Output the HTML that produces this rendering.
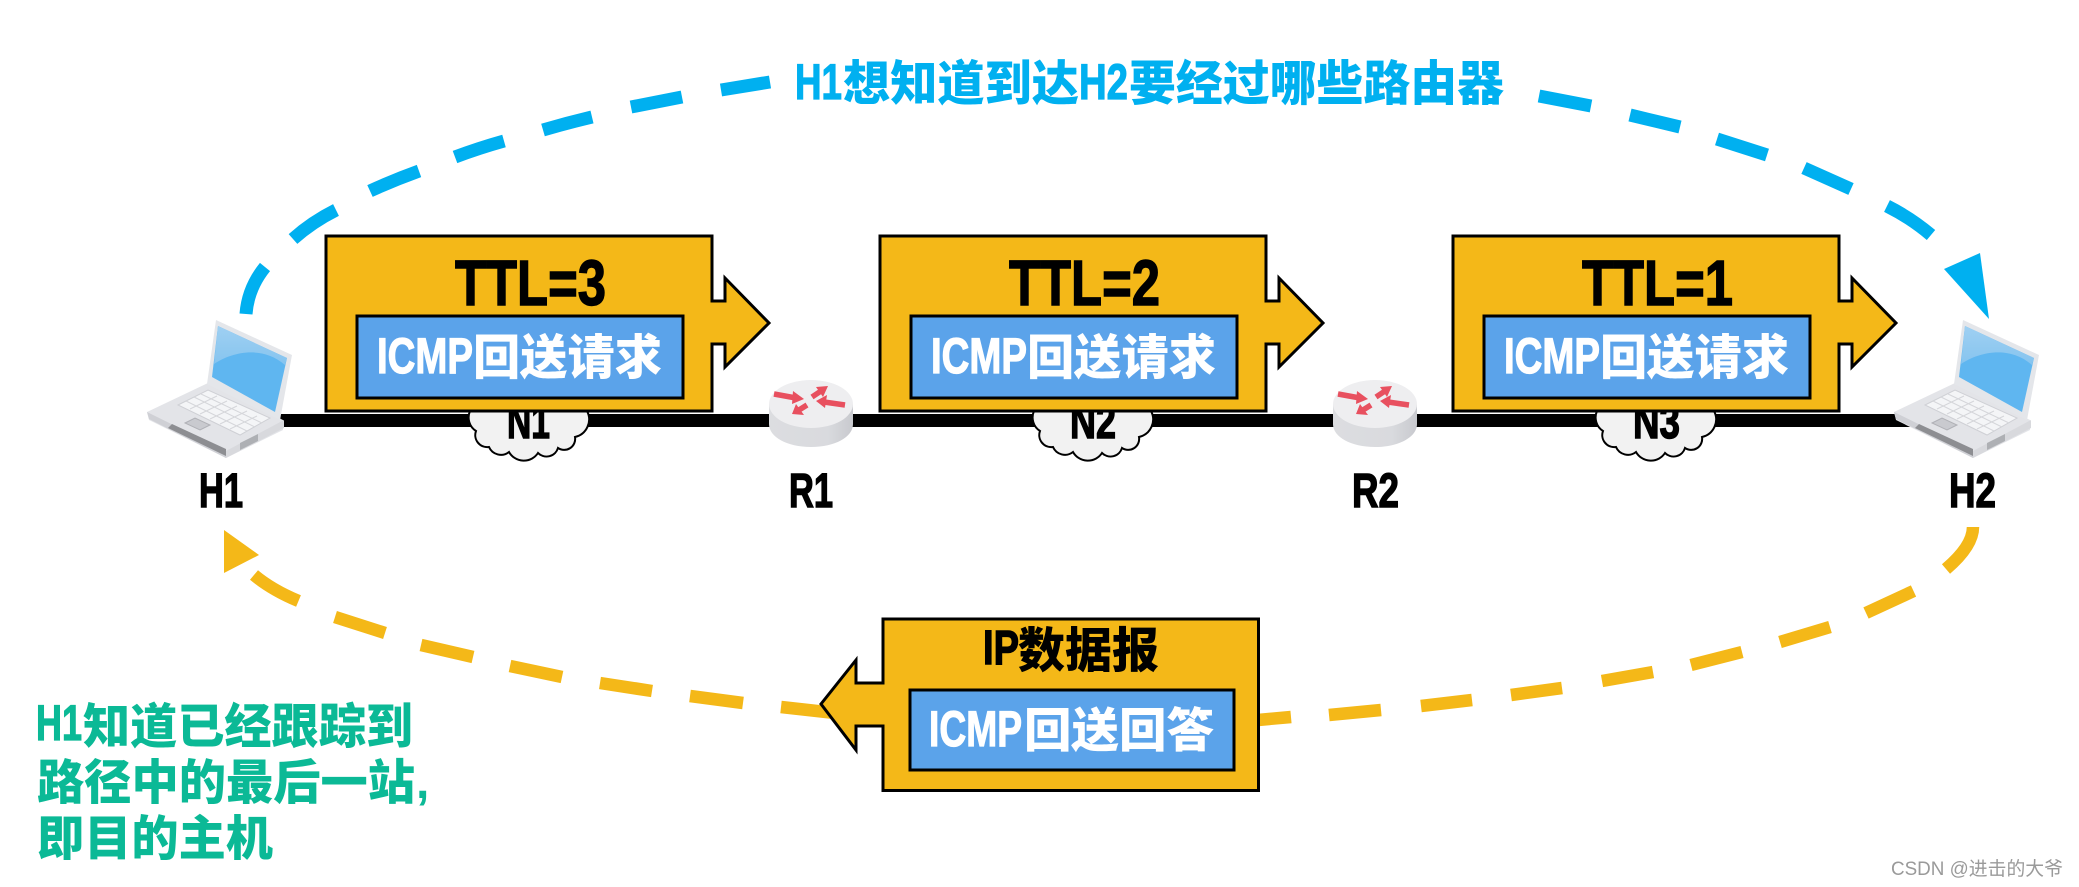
<!DOCTYPE html>
<html lang="zh">
<head>
<meta charset="utf-8">
<title>ICMP traceroute</title>
<style>
html,body{margin:0;padding:0;background:#fff;width:2079px;height:887px;overflow:hidden}
svg{display:block}
text{font-family:"Liberation Sans","Noto Sans CJK SC",sans-serif;font-weight:700}
.cjk{font-family:"Noto Sans CJK SC","Liberation Sans",sans-serif;font-weight:900}
.blue path{fill:none;stroke:#00b0f0;stroke-width:13}
.org path{fill:none;stroke:#f4b818;stroke-width:12.5}
.box{fill:#f4b818;stroke:#000;stroke-width:3}
.in{fill:#5ba3ea;stroke:#000;stroke-width:3}
.w{fill:#fff}
.cl{fill:#f2f2f2;stroke:#000;stroke-width:2}
.c{fill:#00b0f0}
.g{fill:#0bb996}
.k{stroke:#000;stroke-width:1.4}
.sw{stroke:#fff;stroke-width:1.2}
.sc{stroke:#00b0f0;stroke-width:1.2}
.sg{stroke:#0bb996;stroke-width:1.2}
</style>
</head>
<body>
<svg width="2079" height="887" viewBox="0 0 2079 887" xmlns="http://www.w3.org/2000/svg">
<defs>
<linearGradient id="sc" x1="0" y1="0" x2="0" y2="1"><stop offset="0" stop-color="#9fd0f2"/><stop offset="1" stop-color="#86c4ef"/></linearGradient>
<linearGradient id="rb" x1="0" y1="0" x2="1" y2="0"><stop offset="0" stop-color="#dcdde0"/><stop offset=".7" stop-color="#d9dade"/><stop offset="1" stop-color="#c8c9ce"/></linearGradient>
<g id="laptop">
  <polygon points="147,412 208,383 283,420 283,430 226,458 149,420" fill="#e3e4e8"/>
  <polygon points="149,419 226,458 226,451 147,412" fill="#cfd0d5"/>
  <polygon points="226,458 284,428 284,420 226,451" fill="#d8d9dd"/>
  <polygon points="168,428 226,456 226,449 172,424" fill="#8d8e92"/>
  <polygon points="240,450 258,441 258,434 240,443" fill="#aeb0b4"/>
  <polygon points="178,405 208,390 270,418 240,435" fill="#f4f5f7" stroke="#cfd0d5" stroke-width="1"/>
  <path d="M186,401 247,431M194,397 255,427M201,394 262,423M190,409 217,396M200,414 227,401M210,419 237,406M220,424 247,411M230,429 257,416" stroke="#d5d6da" stroke-width="1" fill="none"/>
  <polygon points="185,423 195,418 210,425 200,430" fill="#c9cacf" stroke="#b0b1b6" stroke-width="1"/>
  <polygon points="216,320 292,355 280,420 207,384" fill="#e4e6ea"/>
  <polygon points="218,326 287,358 275,412 212,377" fill="#5fb6f0"/>
  <path d="M218,326 287,358 285,365 C262,345 232,352 214,364 Z" fill="url(#sc)"/>
</g>
<g id="router">
  <path d="M769,404 V424 C769,437 787,447 811,447 C835,447 853,437 853,424 V404 Z" fill="url(#rb)"/>
  <ellipse cx="811" cy="404" rx="42" ry="24" fill="#eeeef0"/>
  <g stroke="#e8505f" stroke-width="5.5" fill="#e8505f">
    <path d="M774,394 796,398"/><polygon points="793,391 804,399 792,404" stroke="none"/>
    <path d="M812,397 821,391"/><polygon points="816,387 828,386 823,397" stroke="none"/>
    <path d="M845,405 824,402"/><polygon points="827,395 816,401 825,408" stroke="none"/>
    <path d="M807,405 799,410"/><polygon points="796,404 792,414 804,415" stroke="none"/>
  </g>
</g>
<path id="cloud" class="cl" d="M470,411 A16,16 0 0 0 476,431 A12,12 0 0 0 489,447 A13,13 0 0 0 509,452 A17,17 0 0 0 538,453 A12,12 0 0 0 558,448 A11,11 0 0 0 575,437 A18,18 0 0 0 587,411 Z"/>
</defs>

<!-- network line -->
<rect x="270" y="414" width="1640" height="13" fill="#000"/>
<use href="#cloud"/>
<use href="#cloud" x="564"/>
<use href="#cloud" x="1127"/>
<text class="k" x="507" y="438" font-size="48" textLength="43" lengthAdjust="spacingAndGlyphs">N1</text>
<text class="k" x="1070" y="438" font-size="48" textLength="46" lengthAdjust="spacingAndGlyphs">N2</text>
<text class="k" x="1633" y="438" font-size="48" textLength="47" lengthAdjust="spacingAndGlyphs">N3</text>

<use href="#router"/>
<use href="#router" x="564"/>
<use href="#laptop"/>
<use href="#laptop" x="1747"/>

<text class="k" x="199" y="507" font-size="48" textLength="44" lengthAdjust="spacingAndGlyphs">H1</text>
<text class="k" x="789" y="507" font-size="48" textLength="44" lengthAdjust="spacingAndGlyphs">R1</text>
<text class="k" x="1352" y="507" font-size="48" textLength="47" lengthAdjust="spacingAndGlyphs">R2</text>
<text class="k" x="1949" y="507" font-size="48" textLength="47" lengthAdjust="spacingAndGlyphs">H2</text>

<!-- blue dashed arc -->
<g class="blue">
  <path d="M246,314 Q248,288 265,267"/>
  <path d="M293,239 Q312,222 336,210"/>
  <path d="M370,191 Q394,180 419,171"/>
  <path d="M455,157 Q479,148 504,141"/>
  <path d="M543,130 Q567,123 592,117"/>
  <path d="M631,107 Q656,102 682,97"/>
  <path d="M721,90 L770,82"/>
  <path d="M1539,96 L1591,106"/>
  <path d="M1630,115 L1680,127"/>
  <path d="M1717,139 L1767,155"/>
  <path d="M1804,168 L1851,189"/>
  <path d="M1887,206 Q1911,218 1931,235"/>
</g>
<polygon points="1980,253 1944,269 1989,319" fill="#00b0f0"/>

<!-- orange dashed arc -->
<g class="org">
  <path d="M254,575 Q272,590 298.5,601"/>
  <path d="M335,617 L385,633"/>
  <path d="M421,645 L473,657"/>
  <path d="M510,666 L562,677"/>
  <path d="M600,683 L652,691"/>
  <path d="M690,696 L743,703"/>
  <path d="M781,707 L835,713"/>
  <path d="M1258,720 L1291,717"/>
  <path d="M1329,715 L1381,710"/>
  <path d="M1421,706 L1472,700"/>
  <path d="M1511,695 L1562,688"/>
  <path d="M1602,681 L1653,672"/>
  <path d="M1691,665 L1742,652"/>
  <path d="M1780,642 L1830,627"/>
  <path d="M1866,613 L1913.5,591"/>
  <path d="M1946,569 Q1973,546 1973,527"/>
</g>
<polygon points="224,530 259,555 224,573" fill="#f4b818"/>

<!-- packet 1 -->
<polygon class="box" points="326,236 712,236 712,301 725,301 725,278 769,323 725,367 725,344 712,344 712,411 326,411"/>
<rect class="in" x="357" y="316" width="326" height="82"/>
<text class="k" x="455" y="305" font-size="64" textLength="151" lengthAdjust="spacingAndGlyphs">TTL=3</text>
<text class="w sw" x="377" y="373" font-size="50" textLength="96" lengthAdjust="spacingAndGlyphs">ICMP</text>
<text class="w cjk" x="473" y="374" font-size="48" textLength="189" lengthAdjust="spacingAndGlyphs">回送请求</text>

<!-- packet 2 -->
<polygon class="box" points="880,236 1266,236 1266,301 1279,301 1279,278 1323,323 1279,367 1279,344 1266,344 1266,411 880,411"/>
<rect class="in" x="911" y="316" width="326" height="82"/>
<text class="k" x="1009" y="305" font-size="64" textLength="151" lengthAdjust="spacingAndGlyphs">TTL=2</text>
<text class="w sw" x="931" y="373" font-size="50" textLength="96" lengthAdjust="spacingAndGlyphs">ICMP</text>
<text class="w cjk" x="1027" y="374" font-size="48" textLength="189" lengthAdjust="spacingAndGlyphs">回送请求</text>

<!-- packet 3 -->
<polygon class="box" points="1453,236 1839,236 1839,301 1852,301 1852,278 1896,323 1852,367 1852,344 1839,344 1839,411 1453,411"/>
<rect class="in" x="1484" y="316" width="326" height="82"/>
<text class="k" x="1582" y="305" font-size="64" textLength="151" lengthAdjust="spacingAndGlyphs">TTL=1</text>
<text class="w sw" x="1504" y="373" font-size="50" textLength="96" lengthAdjust="spacingAndGlyphs">ICMP</text>
<text class="w cjk" x="1600" y="374" font-size="48" textLength="189" lengthAdjust="spacingAndGlyphs">回送请求</text>

<!-- reply packet -->
<polygon class="box" points="1258.5,619 883,619 883,683 856,683 856,660 821,704 856,750 856,726 883,726 883,790.5 1258.5,790.5"/>
<rect class="in" x="910" y="690" width="324" height="80"/>
<text class="k" x="983" y="664" font-size="48" textLength="36" lengthAdjust="spacingAndGlyphs">IP</text>
<text class="cjk" x="1018" y="667" font-size="48" textLength="141" lengthAdjust="spacingAndGlyphs">数据报</text>
<text class="w sw" x="929" y="746" font-size="50" textLength="93" lengthAdjust="spacingAndGlyphs">ICMP</text>
<text class="w cjk" x="1024" y="747" font-size="47" textLength="190" lengthAdjust="spacingAndGlyphs">回送回答</text>

<!-- title -->
<text class="c sc" x="795" y="99" font-size="50" textLength="47" lengthAdjust="spacingAndGlyphs">H1</text>
<text class="c cjk" x="843" y="100" font-size="48" textLength="236" lengthAdjust="spacingAndGlyphs">想知道到达</text>
<text class="c sc" x="1079" y="99" font-size="50" textLength="49" lengthAdjust="spacingAndGlyphs">H2</text>
<text class="c cjk" x="1129" y="100" font-size="48" textLength="375" lengthAdjust="spacingAndGlyphs">要经过哪些路由器</text>

<!-- green note -->
<text class="g sg" x="36" y="740" font-size="50" textLength="46" lengthAdjust="spacingAndGlyphs">H1</text>
<text class="g cjk" x="83" y="743" font-size="48" textLength="330" lengthAdjust="spacingAndGlyphs">知道已经跟踪到</text>
<text class="g cjk" x="37" y="799" font-size="48" textLength="378" lengthAdjust="spacingAndGlyphs">路径中的最后一站</text>
<text class="g" x="416" y="798" font-size="48">,</text>
<text class="g cjk" x="37" y="855" font-size="48" textLength="236" lengthAdjust="spacingAndGlyphs">即目的主机</text>

<!-- watermark -->
<text x="1891" y="875" font-size="19" fill="#9a9a9a" style="font-weight:400" textLength="172" lengthAdjust="spacingAndGlyphs">CSDN @进击的大爷</text>
</svg>
</body>
</html>
